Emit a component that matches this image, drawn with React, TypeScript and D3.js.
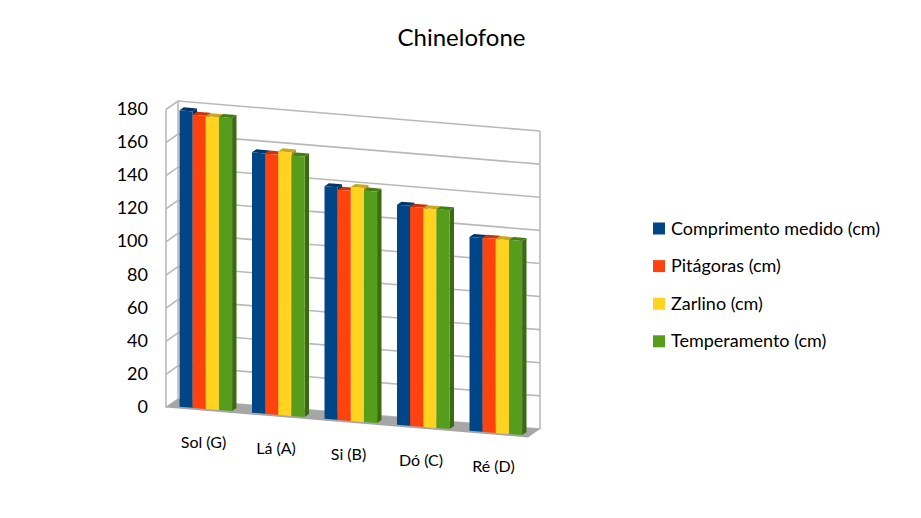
import React from 'react';
import { scaleBand, scaleLinear, color as d3color, line } from 'd3';

const categories = ['Sol (G)', 'Lá (A)', 'Si (B)', 'Dó (C)', 'Ré (D)'];
const seriesNames = ['Comprimento medido (cm)', 'Pitágoras (cm)', 'Zarlino (cm)', 'Temperamento (cm)'];
const seriesColors = ['#004586', '#ff420e', '#ffd320', '#579d1c'];
const medido = [179, 157.3, 140.4, 132.9, 117];
const pitagoras = [177, 157.2, 139, 132.3, 117.3];
const zarlino = [176.8, 159.2, 141.3, 132.1, 117.1];
const temperamento = [177, 157.4, 139.8, 132.2, 117.2];
const seriesValues = [medido, pitagoras, zarlino, temperamento];
const yTicks = [0, 20, 40, 60, 80, 100, 120, 140, 160, 180];

const floorFront = { x0: 166, y0: 407.5, x1: 528, y1: 437.5 };
const depth = { dx: 12, dy: -8.5 };
const slope = (floorFront.y1 - floorFront.y0) / (floorFront.x1 - floorFront.x0);
const barDepth = { dx: 4.4, dy: -3 };

const y = scaleLinear().domain([0, 180]).range([0, 298]);
const xGroup = scaleBand<string>().domain(categories).range([179.5, 179.5 + 72.5 * 5]).paddingInner(0).paddingOuter(0);
const xBar = scaleBand<number>().domain([0, 1, 2, 3]).range([0, 52.6]);

const path = line<[number, number]>();
const shade = (c: string, k: number) => d3color(c)!.darker(k).formatHex();
const gridColor = '#b9b9b9';
const fontFamily = 'Lato, Carlito, sans-serif';

// y on the sheared front plane of the floor
const baseY = (x: number) => 406.7 + slope * (x - 179.5);

function Bar({ x, w, value, fill }: { x: number; w: number; value: number; fill: string }) {
  const b0 = baseY(x);
  const b1 = baseY(x + w);
  const h = y(value);
  const front: [number, number][] = [[x, b0 - h], [x + w, b1 - h], [x + w, b1], [x, b0]];
  const top: [number, number][] = [
    [x, b0 - h],
    [x + barDepth.dx, b0 - h + barDepth.dy],
    [x + w + barDepth.dx, b1 - h + barDepth.dy],
    [x + w, b1 - h],
  ];
  const side: [number, number][] = [
    [x + w, b1 - h],
    [x + w + barDepth.dx, b1 - h + barDepth.dy],
    [x + w + barDepth.dx, b1 + barDepth.dy],
    [x + w, b1],
  ];
  return (
    <g>
      <path d={path(side) + 'Z'} fill={shade(fill, 1.1)} />
      <path d={path(top) + 'Z'} fill={shade(fill, 0.65)} />
      <path d={path(front) + 'Z'} fill={fill} />
    </g>
  );
}

export default function App() {
  const { x0, y0, x1, y1 } = floorFront;
  const floor: [number, number][] = [
    [x0, y0],
    [x0 + depth.dx, y0 + depth.dy],
    [x1 + depth.dx, y1 + depth.dy],
    [x1, y1],
  ];
  const h = y(180);
  return (
    <svg width={921} height={518} style={{ position: 'absolute', left: 0, top: 0, background: '#fff' }}>
      {/* walls and grid */}
      <line x1={x0} x2={x0} y1={y0} y2={y0 - h} stroke={gridColor} strokeWidth={1.6} />
      <line x1={x0 + depth.dx} x2={x0 + depth.dx} y1={y0 + depth.dy} y2={y0 + depth.dy - h} stroke={gridColor} strokeWidth={1.6} />
      <line x1={x1 + depth.dx} x2={x1 + depth.dx} y1={y1 + depth.dy} y2={y1 + depth.dy - h} stroke={gridColor} strokeWidth={1.6} />
      {yTicks.map(t => (
        <path
          key={t}
          d={path([
            [x0, y0 - y(t)],
            [x0 + depth.dx, y0 + depth.dy - y(t)],
            [x1 + depth.dx, y1 + depth.dy - y(t)],
          ]) ?? ''}
          fill="none"
          stroke={gridColor}
          strokeWidth={1.6}
        />
      ))}
      <path d={path(floor) + 'Z'} fill="#a6a6a6" />

      {/* bars */}
      {categories.map((c, i) =>
        seriesValues.map((vals, s) => (
          <Bar
            key={c + s}
            x={xGroup(c)! + xBar(s)!}
            w={xBar.bandwidth()}
            value={vals[i]}
            fill={seriesColors[s]}
          />
        ))
      )}

      {/* value axis */}
      {yTicks.map(t => (
        <text
          key={t}
          x={148}
          y={y0 - y(t) + 5.5}
          textAnchor="end"
          fontFamily={fontFamily}
          fontSize={18}
          fill="#000"
        >
          {t}
        </text>
      ))}

      {/* category labels */}
      {categories.map(c => {
        const cx = xGroup(c)! + 24;
        return (
          <text
            key={c}
            x={cx}
            y={baseY(cx) + 39}
            textAnchor="middle"
            fontFamily={fontFamily}
            fontSize={16}
            fill="#000"
          >
            {c}
          </text>
        );
      })}

      <text x={461.5} y={46} textAnchor="middle" fontFamily={fontFamily} fontSize={24} fill="#000">
        Chinelofone
      </text>

      {/* legend */}
      {seriesNames.map((n, i) => (
        <g key={n} transform={`translate(653,${222.5 + i * 37.6})`}>
          <rect width={12} height={12} fill={seriesColors[i]} />
          <text x={18} y={12} fontFamily={fontFamily} fontSize={18} fill="#000">
            {n}
          </text>
        </g>
      ))}
    </svg>
  );
}
